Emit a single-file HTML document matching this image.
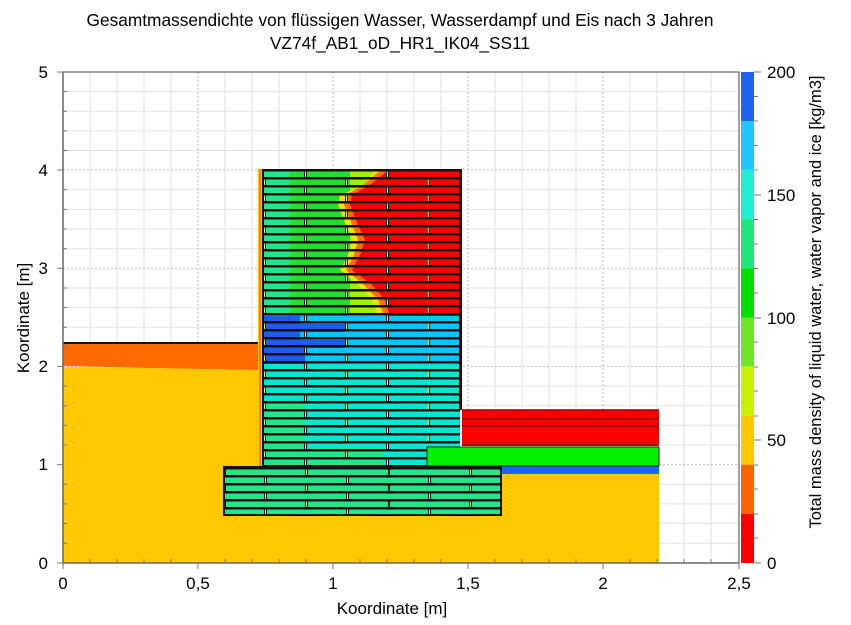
<!DOCTYPE html>
<html><head><meta charset="utf-8"><style>
body{margin:0;background:#fff}
svg{display:block;font-family:"Liberation Sans",Arial,sans-serif}
</style></head><body>
<svg width="851" height="625" viewBox="0 0 851 625" xmlns="http://www.w3.org/2000/svg">
<defs>
<pattern id="br" x="264" y="169" width="164" height="16" patternUnits="userSpaceOnUse">
<rect x="0" y="0" width="164" height="2.5" fill="#111"/>
<rect x="0" y="8" width="164" height="2.5" fill="#111"/>
<rect x="40" y="2" width="3" height="6" fill="#111"/><rect x="41" y="2.5" width="1" height="5.5" fill="#ee5"/>
<rect x="122" y="2" width="3" height="6" fill="#111"/><rect x="123" y="2.5" width="1" height="5.5" fill="#ee5"/>
<rect x="0" y="10" width="2" height="6" fill="#111"/><rect x="0" y="10.5" width="1" height="5.5" fill="#ee5"/>
<rect x="81" y="10" width="3" height="6" fill="#111"/><rect x="82" y="10.5" width="1" height="5.5" fill="#ee5"/>
</pattern>
<pattern id="bf" x="224" y="467" width="164" height="16" patternUnits="userSpaceOnUse">
<rect x="0" y="0" width="164" height="2.5" fill="#111"/>
<rect x="0" y="8" width="164" height="2.5" fill="#111"/>
<rect x="81" y="2" width="3" height="6" fill="#111"/><rect x="82" y="2.5" width="1" height="5.5" fill="#ee5"/>
<rect x="0" y="2" width="2" height="6" fill="#111"/>
<rect x="40" y="10" width="3" height="6" fill="#111"/><rect x="41" y="10.5" width="1" height="5.5" fill="#ee5"/>
<rect x="122" y="10" width="3" height="6" fill="#111"/><rect x="123" y="10.5" width="1" height="5.5" fill="#ee5"/>
</pattern>
</defs>
<text x="400" y="26" font-size="17.3" text-anchor="middle">Gesamtmassendichte von flüssigen Wasser, Wasserdampf und Eis nach 3 Jahren</text>
<text x="400" y="49" font-size="17.3" text-anchor="middle">VZ74f_AB1_oD_HR1_IK04_SS11</text>
<!-- grid -->
<g stroke="#e2e2e2" stroke-width="1">
<path d="M90 72V563M117 72V563M144 72V563M171 72V563M225 72V563M252 72V563M279 72V563M306 72V563M360 72V563M387 72V563M414 72V563M441 72V563M495 72V563M522 72V563M549 72V563M576 72V563M630 72V563M657 72V563M684 72V563M711 72V563"/>
<path d="M63 91.6H739M63 111.3H739M63 130.9H739M63 150.5H739M63 189.8H739M63 209.4H739M63 229H739M63 248.7H739M63 288H739M63 307.6H739M63 327.2H739M63 346.8H739M63 386H739M63 405.7H739M63 425.3H739M63 445H739M63 484.3H739M63 503.9H739M63 523.5H739M63 543.2H739"/>
</g>
<g stroke="#bbb" stroke-width="1" stroke-dasharray="2,2">
<path d="M198 72V563M333 72V563M468 72V563M603 72V563M63 170H739M63 268.2H739M63 366.4H739M63 464.6H739"/>
</g>
<!-- ground -->
<path d="M63 367 L150 368 L258 370 L258 563 L63 563Z" fill="#ffc800"/>
<path d="M63 343 H258 V370 L150 368 L63 366Z" fill="#ff6a00"/>
<line x1="63" y1="343" x2="262" y2="343" stroke="#111" stroke-width="2"/>
<rect x="224" y="465" width="435" height="98" fill="#ffc800"/>
<!-- right layers -->
<rect x="462" y="410" width="197" height="36" fill="#ff0000"/>
<path d="M462 410H659M462 419H659M462 426H659M462 445H659" stroke="#8a0000" stroke-width="1.5"/>
<rect x="501" y="466" width="158" height="8" fill="#1e64ff"/>
<!-- wall -->
<rect x="258" y="169" width="6" height="298" fill="#ffc800"/>
<rect x="259" y="169" width="2" height="298" fill="#ff7a00"/>
<rect x="264" y="169" width="196" height="147" fill="#1ee88a"/>
<rect x="290" y="169" width="60" height="147" fill="#22e030"/>
<rect x="350" y="169" width="60" height="147" fill="#a0f000"/>
<path d="M375 169 L365 185 L340 195 L338 205 L346 225 L352 240 L348 255 L340 270 L358 285 L372 300 L378 316 H460 V169Z" fill="#e8e800"/>
<path d="M382 169 L363 185 L346 195 L344 205 L352 225 L358 240 L354 255 L346 270 L364 285 L378 300 L384 316 H460 V169Z" fill="#ff7000"/>
<path d="M390 169 L370 185 L352 195 L350 205 L358 225 L365 240 L360 255 L352 270 L372 285 L385 300 L390 316 H460 V169Z" fill="#ff0000"/>
<rect x="264" y="316" width="196" height="151" fill="#00e8d0"/>
<rect x="264" y="316" width="196" height="48" fill="#00c8ff"/>
<path d="M264 316H300V324H264ZM264 324H345V332H264ZM264 340H345V348H264ZM264 348H305V356H264ZM264 356H305V364H264ZM264 332H300V340H264Z" fill="#1e5cf0"/>
<rect x="264" y="402" width="41" height="65" fill="#1ee88a"/>
<rect x="264" y="448" width="120" height="19" fill="#1ee88a"/>
<rect x="264" y="169" width="196" height="298" fill="url(#br)"/>
<rect x="459" y="169" width="3" height="241" fill="#3a0000"/>
<rect x="262" y="169" width="2" height="298" fill="#111"/>
<rect x="427" y="447" width="232" height="19" fill="#00f000" stroke="#222" stroke-width="1"/>
<!-- foundation -->
<rect x="224" y="467" width="277" height="48" fill="#1ee88a"/>
<rect x="224" y="467" width="277" height="48" fill="url(#bf)"/>
<rect x="224" y="467" width="277" height="48" fill="none" stroke="#111" stroke-width="2"/>
<!-- axes -->
<path d="M63 72H739V563" fill="none" stroke="#444" stroke-width="1"/>
<path d="M63 72V563H739" fill="none" stroke="#666" stroke-width="1.5"/>
<g stroke="#777" stroke-width="1">
<path d="M63 563v6M198 563v6M333 563v6M468 563v6M603 563v6M739 563v6M57 563h6M57 464.6h6M57 366.4h6M57 268.2h6M57 170h6M57 72h6"/>
<path d="M90 563v-4M117 563v-4M144 563v-4M171 563v-4M225 563v-4M252 563v-4M279 563v-4M306 563v-4M360 563v-4M387 563v-4M414 563v-4M441 563v-4M495 563v-4M522 563v-4M549 563v-4M576 563v-4M630 563v-4M657 563v-4M684 563v-4M711 563v-4"/>
<path d="M63 91.6h4M63 111.3h4M63 130.9h4M63 150.5h4M63 189.8h4M63 209.4h4M63 229h4M63 248.7h4M63 288h4M63 307.6h4M63 327.2h4M63 346.8h4M63 386h4M63 405.7h4M63 425.3h4M63 445h4M63 484.3h4M63 503.9h4M63 523.5h4M63 543.2h4"/>
</g>
<g font-size="17" text-anchor="middle">
<text x="63" y="589">0</text><text x="198" y="589">0,5</text><text x="333" y="589">1</text><text x="468" y="589">1,5</text><text x="603" y="589">2</text><text x="739" y="589">2,5</text>
<text x="392" y="614">Koordinate [m]</text>
</g>
<g font-size="17" text-anchor="end">
<text x="48" y="569">0</text><text x="48" y="470">1</text><text x="48" y="372">2</text><text x="48" y="274">3</text><text x="48" y="176">4</text><text x="48" y="78">5</text>
</g>
<text transform="translate(29,318) rotate(-90)" font-size="17" text-anchor="middle">Koordinate [m]</text>
<!-- colorbar -->
<rect x="741" y="72" width="13" height="49.1" fill="#1e64f0"/>
<rect x="741" y="121.1" width="13" height="49.1" fill="#1ec8ff"/>
<rect x="741" y="170.2" width="13" height="49.1" fill="#1ef0d2"/>
<rect x="741" y="219.3" width="13" height="49.1" fill="#1ee678"/>
<rect x="741" y="268.4" width="13" height="49.1" fill="#00e000"/>
<rect x="741" y="317.5" width="13" height="49.1" fill="#6ee628"/>
<rect x="741" y="366.6" width="13" height="49.1" fill="#c8f000"/>
<rect x="741" y="415.7" width="13" height="49.1" fill="#ffc800"/>
<rect x="741" y="464.8" width="13" height="49.1" fill="#ff6400"/>
<rect x="741" y="513.9" width="13" height="49.1" fill="#ff0000"/>
<g stroke="#777"><path d="M754 72h7M754 195h7M754 318h7M754 440h7M754 563h7M754 96.5h4M754 121h4M754 145.5h4M754 170h4M754 219.5h4M754 244h4M754 268.5h4M754 293h4M754 342h4M754 367h4M754 391h4M754 416h4M754 465h4M754 489h4M754 514h4M754 538h4"/></g>
<g font-size="17">
<text x="767" y="78">200</text><text x="767" y="201">150</text><text x="767" y="324">100</text><text x="767" y="446">50</text><text x="767" y="569">0</text>
</g>
<text transform="translate(821,302) rotate(-90)" font-size="16.5" text-anchor="middle">Total mass density of liquid water, water vapor and ice [kg/m3]</text>
</svg>
</body></html>
